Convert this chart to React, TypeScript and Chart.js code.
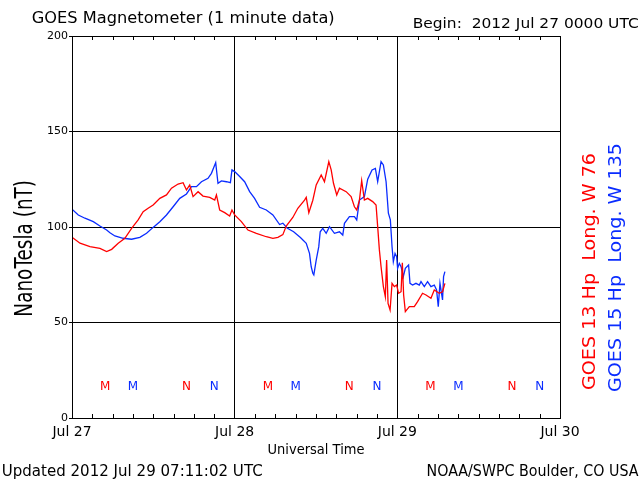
import React, { useEffect, useRef } from "react";
import { Chart, registerables } from "chart.js";

Chart.register(...registerables);

// Hours since 2012 Jul 27 00:00 UTC
const redHours = [0, 1.18, 2.65, 4.12, 5.11, 5.85, 6.82, 7.8, 8.79, 9.76, 10.5, 11.23, 11.97, 12.96, 13.94, 14.68, 15.65, 16.39, 16.89, 17.37, 17.86, 18.6, 19.33, 20.32, 21.06, 21.31, 21.79, 22.53, 23.26, 23.6, 24, 24.99, 25.96, 27.2, 28.67, 29.64, 30.38, 31.11, 31.61, 32.58, 33.32, 34.31, 34.56, 34.94, 35.53, 36.03, 36.77, 37.25, 37.89, 38.24, 38.58, 39.06, 39.46, 40.45, 41.18, 41.67, 42.01, 42.41, 42.74, 43.14, 43.63, 44.36, 44.86, 45.1, 45.35, 45.6, 45.94, 46.23, 46.42, 46.63, 46.93, 47.22, 47.56, 47.9, 48.19, 48.55, 48.74, 48.93, 49.18, 49.77, 50.5, 50.99, 51.72, 52.23, 52.96, 53.45, 54.18, 54.67, 55.02];
const redValues = [94.6, 91.5, 89.7, 88.8, 87.1, 88.3, 91.5, 94.1, 99.3, 103.7, 108, 109.8, 111.5, 115, 116.8, 120.3, 122.5, 123.2, 119.4, 122, 115.9, 118.5, 116.2, 115.5, 114.1, 116.8, 108.9, 107.5, 105.8, 108.9, 106.3, 102.8, 98.4, 96.7, 94.9, 94.1, 94.6, 96, 100.5, 105, 109.8, 114.1, 115.5, 107.5, 114, 122, 127.2, 123.7, 134.2, 129.9, 122.9, 116.8, 120.3, 118.5, 115.9, 110.6, 108.9, 114.1, 124.3, 114.1, 115, 113.3, 111.5, 100.2, 88, 79.2, 68.8, 63.5, 82.7, 60, 56.5, 70.5, 68.8, 69.6, 65.3, 66.1, 81.3, 64.4, 55.7, 58.3, 58.3, 60.9, 65.3, 64.4, 62.7, 67, 65.3, 66.1, 70.5];

const blueHours = [0, 0.93, 1.91, 3.14, 4.12, 5.11, 5.6, 6.33, 7.55, 8.79, 10.01, 11, 11.97, 12.96, 13.94, 14.92, 15.9, 16.89, 17.62, 18.36, 19.1, 20.07, 20.57, 21.2, 21.54, 22.04, 22.78, 23.37, 23.6, 24, 24.74, 25.47, 26.21, 26.94, 27.68, 28.67, 29.64, 30.63, 31.11, 31.73, 32.7, 33.7, 34.56, 35.04, 35.29, 35.53, 35.68, 36.03, 36.41, 36.62, 37, 37.5, 37.99, 38.72, 39.46, 39.95, 40.2, 40.93, 41.67, 42.01, 42.41, 43.14, 43.63, 44.27, 44.76, 45.1, 45.6, 45.94, 46.34, 46.68, 46.97, 47.22, 47.41, 47.66, 47.9, 48.04, 48.29, 48.55, 48.88, 49.18, 49.66, 49.87, 50.25, 50.75, 51.24, 51.49, 51.98, 52.46, 52.96, 53.45, 53.79, 54.04, 54.29, 54.67, 54.82, 55.02];
const blueValues = [109.3, 106.3, 104.6, 102.8, 100.5, 98.4, 97, 95.3, 94.1, 93.6, 94.6, 96.7, 99.8, 102.8, 106.3, 110.6, 115, 117.3, 121.1, 121.1, 123.7, 125.5, 128.1, 133.7, 122.9, 124.1, 123.7, 123.2, 129.9, 129, 126.4, 123.7, 118.5, 115, 110.3, 108.9, 106.3, 101.3, 102, 99.5, 97.5, 94.5, 91.5, 86.2, 79.2, 75.8, 74.9, 82.7, 89.7, 97.5, 99.3, 96.7, 100.2, 96.7, 97.5, 95.8, 101.9, 105.4, 105.4, 103.7, 114.1, 115.9, 125, 129.9, 130.7, 123.7, 134.2, 132.5, 123.7, 107.2, 103.7, 89.7, 81.8, 86.2, 84.5, 78.4, 81, 79.2, 74, 78.4, 80.1, 70.5, 69.6, 70.5, 69.6, 71.4, 68.8, 71.4, 68.8, 69.6, 67, 58.3, 70.5, 61.8, 74, 76.6];

const dayLabels = ["Jul 27", "Jul 28", "Jul 29", "Jul 30"];
const yTickValues = [0, 50, 100, 150, 200];

// Local midnight (M) / noon (N) markers for each satellite
const markerHours = [4.9, 9, 16.9, 21, 28.9, 33, 40.9, 45, 52.9, 57, 64.9, 69];
const markerLetters = ["M", "M", "N", "N", "M", "M", "N", "N", "M", "M", "N", "N"];
const markerSat = [0, 1, 0, 1, 0, 1, 0, 1, 0, 1, 0, 1];
const markerLevel = 17;

const RED = "#ff0000";
const BLUE = "#0a2cff";
const FONT = '"DejaVu Sans", sans-serif';

function drawLabel(
  ctx: CanvasRenderingContext2D,
  text: string,
  x: number,
  y: number,
  size: number,
  color: string,
  opts: { align?: CanvasTextAlign; width?: number; capH?: number; rotate?: number } = {}
) {
  ctx.save();
  ctx.font = `${size}px ${FONT}`;
  const w = ctx.measureText(text).width;
  const sx = opts.width ? opts.width / w : 1;
  const cap = 0.729 * size;
  const sy = opts.capH ? opts.capH / cap : 1;
  ctx.translate(x, y);
  if (opts.rotate) ctx.rotate(opts.rotate);
  ctx.scale(sx, sy);
  ctx.fillStyle = color;
  ctx.textAlign = opts.align || "left";
  ctx.textBaseline = "alphabetic";
  ctx.fillText(text, 0, cap / 2);
  ctx.restore();
}

const decorPlugin = {
  id: "goesDecor",
  beforeDraw(chart: any) {
    const ctx = chart.ctx;
    ctx.save();
    ctx.fillStyle = "#ffffff";
    ctx.fillRect(0, 0, chart.width, chart.height);
    ctx.restore();
  },
  afterDraw(chart: any) {
    const ctx: CanvasRenderingContext2D = chart.ctx;
    const { left, right, top, bottom } = chart.chartArea;
    const xs = chart.scales.x;
    const ys = chart.scales.y;

    // frame
    ctx.save();
    ctx.strokeStyle = "#000";
    ctx.lineWidth = 1;
    ctx.strokeRect(Math.round(left) + 0.5, Math.round(top) + 0.5, Math.round(right - left), Math.round(bottom - top));

    // minor inward ticks every 3 hours
    ctx.beginPath();
    for (let h = 3; h < 72; h += 3) {
      if (h % 24 === 0) continue;
      const px = Math.round(xs.getPixelForValue(h)) + 0.5;
      ctx.moveTo(px, top);
      ctx.lineTo(px, top + 4);
      ctx.moveTo(px, bottom);
      ctx.lineTo(px, bottom - 4);
    }
    ctx.stroke();
    ctx.restore();

    // M / N markers
    const my = ys.getPixelForValue(markerLevel);
    markerHours.forEach((h, i) => {
      drawLabel(ctx, markerLetters[i], xs.getPixelForValue(h), my, 12, markerSat[i] === 0 ? RED : BLUE, {
        align: "center",
        capH: 8.5,
      });
    });

    // texts
    drawLabel(ctx, "GOES Magnetometer (1 minute data)", 31.7, 17.8, 15, "#000", { width: 303, capH: 11 });
    drawLabel(ctx, "Begin:  2012 Jul 27 0000 UTC", 412.7, 23, 15, "#000", { width: 226, capH: 10.7 });
    drawLabel(ctx, "Updated 2012 Jul 29 07:11:02 UTC", 1.7, 470, 15, "#000", { width: 261, capH: 11.3 });
    drawLabel(ctx, "NOAA/SWPC Boulder, CO USA", 426.5, 470, 15, "#000", { width: 212, capH: 11.3 });
    drawLabel(ctx, "Universal Time", (left + right) / 2, 449, 14, "#000", { align: "center", width: 97, capH: 10.7 });
    drawLabel(ctx, "NanoTesla (nT)", 23, 248.3, 17, "#000", {
      align: "center",
      width: 136.7,
      capH: 17.7,
      rotate: -Math.PI / 2,
    });
    drawLabel(ctx, "GOES 13 Hp  Long. W 76", 589, 390, 17, RED, {
      width: 237,
      capH: 12.3,
      rotate: -Math.PI / 2,
    });
    drawLabel(ctx, "GOES 15 Hp  Long. W 135", 615, 392, 17, BLUE, {
      width: 249,
      capH: 12.3,
      rotate: -Math.PI / 2,
    });
  },
};

export default function App() {
  const canvasRef = useRef<HTMLCanvasElement | null>(null);

  useEffect(() => {
    if (!canvasRef.current) return;
    Chart.defaults.font.family = FONT;
    const chart = new Chart(canvasRef.current, {
      type: "line",
      data: {
        datasets: [
          {
            label: "GOES 13",
            data: redHours.map((h, i) => ({ x: h, y: redValues[i] })),
            borderColor: RED,
            borderWidth: 1.3,
            pointRadius: 0,
            tension: 0,
            fill: false,
          },
          {
            label: "GOES 15",
            data: blueHours.map((h, i) => ({ x: h, y: blueValues[i] })),
            borderColor: BLUE,
            borderWidth: 1.3,
            pointRadius: 0,
            tension: 0,
            fill: false,
          },
        ],
      },
      options: {
        responsive: false,
        animation: false,
        devicePixelRatio: 1,
        layout: { padding: { left: 0, top: 36, right: 80, bottom: 0 } },
        plugins: {
          legend: { display: false },
          tooltip: { enabled: false },
          title: { display: false },
        },
        scales: {
          x: {
            type: "linear",
            min: 0,
            max: 72,
            afterBuildTicks: (scale: any) => {
              scale.ticks = dayLabels.map((_, i) => ({ value: i * 24 }));
            },
            ticks: {
              callback: (v: any) => dayLabels[Math.round(Number(v) / 24)],
              font: { family: FONT, size: 14 },
              color: "#000",
              padding: 6,
              maxRotation: 0,
              autoSkip: false,
            },
            grid: { color: "#000", lineWidth: 1, drawTicks: false },
            border: { color: "#000", width: 1 },
            afterFit: (scale: any) => {
              scale.height = 62;
            },
          },
          y: {
            min: 0,
            max: 200,
            afterBuildTicks: (scale: any) => {
              scale.ticks = yTickValues.map((v) => ({ value: v }));
            },
            ticks: {
              font: { family: FONT, size: 11 },
              color: "#000",
              padding: 1,
            },
            grid: { color: "#000", lineWidth: 1, tickLength: 3 },
            border: { color: "#000", width: 1 },
            afterFit: (scale: any) => {
              scale.width = 72;
            },
          },
        },
      },
      plugins: [decorPlugin],
    } as any);
    return () => chart.destroy();
  }, []);

  return (
    <div style={{ position: "fixed", left: 0, top: 0, width: 640, height: 480, background: "#fff" }}>
      <canvas ref={canvasRef} width={640} height={480} style={{ display: "block", width: 640, height: 480 }} />
    </div>
  );
}
